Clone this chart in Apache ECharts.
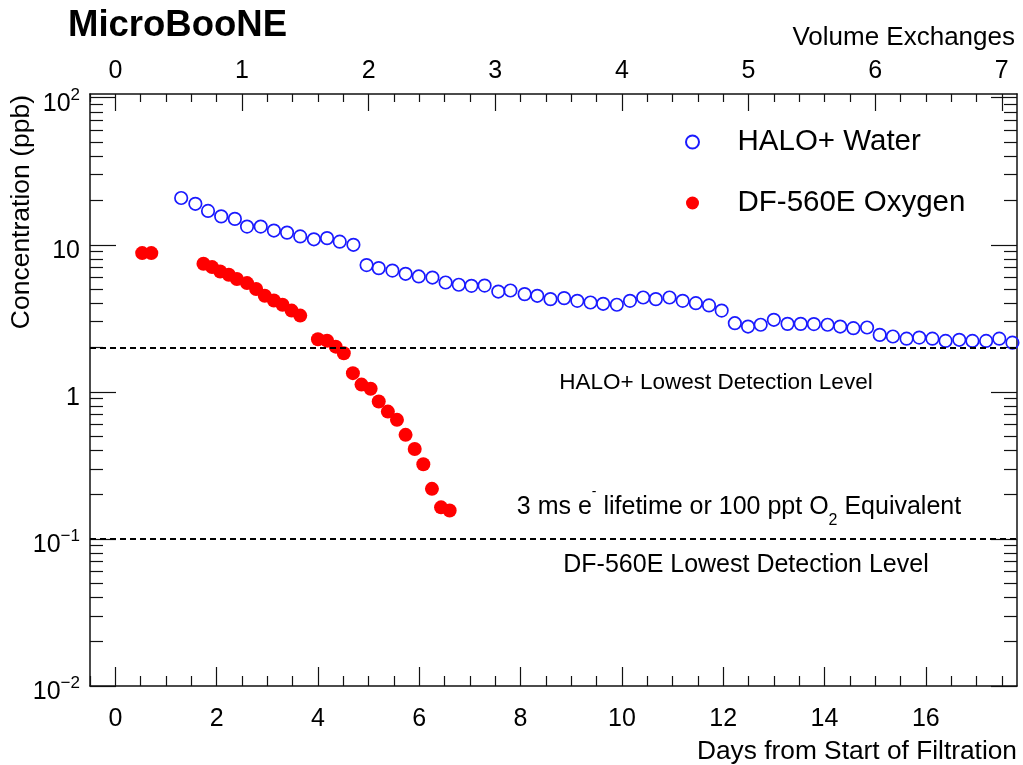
<!DOCTYPE html>
<html>
<head>
<meta charset="utf-8">
<script src="https://cdn.jsdelivr.net/npm/echarts@6.0.0/dist/echarts.min.js"></script>
<style>
html, body { margin: 0; padding: 0; background: #fff; }
#chart { width: 1023px; height: 765px; }
</style>
</head>
<body>
<div id="chart"></div>
<script>
// HALO+ water readings (days, ppb)
var haloDays = [1.30, 1.58, 1.83, 2.09, 2.36, 2.60, 2.87, 3.13, 3.39, 3.65, 3.92, 4.18, 4.43, 4.70,
  4.96, 5.20, 5.47, 5.73, 5.99, 6.26, 6.52, 6.78, 7.03, 7.29, 7.56, 7.80,
  8.08, 8.33, 8.59, 8.86, 9.12, 9.38, 9.63, 9.90, 10.16, 10.42, 10.67, 10.94, 11.20, 11.46, 11.72, 11.97,
  12.23, 12.49, 12.74, 13.00, 13.27, 13.53, 13.79, 14.06, 14.31, 14.57, 14.84,
  15.09, 15.35, 15.62, 15.87, 16.13, 16.39, 16.66, 16.92, 17.19, 17.45, 17.71];
var haloValues = [20.8, 19.0, 17.0, 15.6, 15.0, 13.3, 13.3, 12.5, 12.1, 11.4, 10.9, 11.1, 10.5, 10.0,
  7.28, 6.94, 6.68, 6.35, 6.09, 5.99, 5.54, 5.35, 5.26, 5.28, 4.81, 4.89,
  4.62, 4.50, 4.27, 4.34, 4.16, 4.05, 3.97, 3.91, 4.16, 4.38, 4.27, 4.38, 4.16, 4.01, 3.87, 3.57,
  2.93, 2.78, 2.86, 3.09, 2.90, 2.90, 2.89, 2.86, 2.78, 2.71, 2.74,
  2.44, 2.38, 2.30, 2.34, 2.30, 2.22, 2.26, 2.22, 2.22, 2.30, 2.16];

// DF-560E oxygen readings (days, ppb)
var oxyDays = [0.53, 0.71, 1.74, 1.91, 2.07, 2.24, 2.40, 2.60, 2.78, 2.95, 3.13, 3.30, 3.48, 3.65,
  4.00, 4.18, 4.35, 4.51, 4.69, 4.86, 5.04, 5.20, 5.38, 5.56, 5.73, 5.91, 6.08, 6.25, 6.43, 6.60];
var oxyValues = [8.78, 8.78, 7.43, 7.05, 6.58, 6.25, 5.85, 5.49, 5.00, 4.50, 4.18, 3.91, 3.57, 3.30,
  2.28, 2.23, 2.03, 1.83, 1.34, 1.12, 1.05, 0.859, 0.734, 0.645, 0.510, 0.409, 0.322, 0.219, 0.164, 0.156];

var seriesNames = ['HALO+ Water', 'DF-560E Oxygen'];
var detectionLevels = [2, 0.1];

// axis ticks
var dayTicks = [0, 2, 4, 6, 8, 10, 12, 14, 16];
var volTicks = [0, 1, 2, 3, 4, 5, 6, 7];
var concTicks = [0.01, 0.1, 1, 10, 100];

var dayMinorTicks = [];
for (var d = -0.5; d <= 17.8; d += 0.5) {
  if (d % 2 !== 0) dayMinorTicks.push(d);
}
var volMinorTicks = [];
for (var i = -1; i <= 35; i++) {
  if (i % 5 !== 0) volMinorTicks.push(i / 5);
}
var concMinorTicks = [];
for (var e = -2; e <= 1; e++) {
  for (var k = 2; k <= 9; k++) concMinorTicks.push(+(k * Math.pow(10, e)).toPrecision(3));
}

var FONT = "'Liberation Sans', Arial, sans-serif";
var AX = '#111';

function pairs(xs, ys) {
  return xs.map(function (x, j) { return [x, ys[j]]; });
}

function supLabel(v) {
  var p = Math.round(Math.log10(v));
  if (p === 0) return '{b|1}';
  if (p === 1) return '{b|10}';
  return '{b|10}{s|' + (p < 0 ? '\u2212' + (-p) : p) + '}';
}

var chart = echarts.init(document.getElementById('chart'));

var lineOn = { show: true, onZero: false, lineStyle: { color: AX, width: 1.5 } };
var lineOff = { show: false, onZero: false };
var xBase = { type: 'value', min: -0.5, max: 17.8, offset: 0, splitLine: { show: false } };
var vBase = { type: 'value', min: -0.2, max: 7.12, offset: 0, splitLine: { show: false } };
var yBase = { type: 'log', min: 0.01, max: 106, offset: 0, splitLine: { show: false } };

function ticks(len, values) {
  return { inside: true, length: len, customValues: values, lineStyle: { color: AX, width: 1.2 } };
}

chart.setOption({
  animation: false,
  backgroundColor: '#fff',
  textStyle: { fontFamily: FONT },
  grid: { left: 90, right: 6, top: 94, bottom: 79 },
  legend: {
    orient: 'vertical',
    left: 680,
    top: 122,
    itemWidth: 80,
    itemHeight: 13,
    itemGap: 31,
    textStyle: { fontSize: 29.5, color: '#000', fontFamily: FONT },
    data: seriesNames
  },
  xAxis: [
    Object.assign({}, xBase, {
      position: 'bottom', axisLine: lineOn, axisTick: ticks(19, dayTicks),
      axisLabel: { customValues: dayTicks, margin: 21, fontSize: 25, color: '#000', fontFamily: FONT }
    }),
    Object.assign({}, xBase, {
      position: 'bottom', axisLine: lineOff, axisTick: ticks(10, dayMinorTicks), axisLabel: { show: false }
    }),
    Object.assign({}, vBase, {
      position: 'top', axisLine: lineOn, axisTick: ticks(17, volTicks),
      axisLabel: { customValues: volTicks, margin: 10, fontSize: 25, color: '#000', fontFamily: FONT }
    }),
    Object.assign({}, vBase, {
      position: 'top', axisLine: lineOff, axisTick: ticks(8, volMinorTicks), axisLabel: { show: false }
    })
  ],
  yAxis: [
    Object.assign({}, yBase, {
      position: 'left', axisLine: lineOn, axisTick: ticks(26, concTicks),
      axisLabel: {
        customValues: concTicks, margin: 10, color: '#000', padding: [12, 0, 0, 0],
        formatter: supLabel,
        rich: {
          b: { fontSize: 25, lineHeight: 34, fontFamily: FONT, color: '#000' },
          s: { fontSize: 17, lineHeight: 17, verticalAlign: 'top', fontFamily: FONT, color: '#000' }
        }
      }
    }),
    Object.assign({}, yBase, {
      position: 'left', axisLine: lineOff, axisTick: ticks(13, concMinorTicks), axisLabel: { show: false }
    }),
    Object.assign({}, yBase, {
      position: 'right', axisLine: lineOn, axisTick: ticks(26, concTicks), axisLabel: { show: false }
    }),
    Object.assign({}, yBase, {
      position: 'right', axisLine: lineOff, axisTick: ticks(13, concMinorTicks), axisLabel: { show: false }
    })
  ],
  series: [
    {
      name: seriesNames[0],
      type: 'scatter',
      xAxisIndex: 0,
      yAxisIndex: 0,
      symbol: 'circle',
      symbolSize: 12.5,
      itemStyle: { color: 'rgba(255,255,255,0)', borderColor: '#1a1aff', borderWidth: 1.7, opacity: 1 },
      data: pairs(haloDays, haloValues),
      markLine: {
        silent: true,
        symbol: 'none',
        label: { show: false },
        lineStyle: { color: '#000', type: [6, 4], width: 2 },
        data: detectionLevels.map(function (v) { return { yAxis: v }; })
      }
    },
    {
      name: seriesNames[1],
      type: 'scatter',
      xAxisIndex: 0,
      yAxisIndex: 0,
      symbol: 'circle',
      symbolSize: 14,
      itemStyle: { color: '#ff0000', opacity: 1 },
      data: pairs(oxyDays, oxyValues)
    }
  ],
  graphic: [
    { type: 'text', x: 68, y: 26, style: { text: 'MicroBooNE', font: 'bold 36.5px ' + FONT, fill: '#000', align: 'left', verticalAlign: 'middle' } },
    { type: 'text', x: 1015, y: 38, style: { text: 'Volume Exchanges', font: '26px ' + FONT, fill: '#000', align: 'right', verticalAlign: 'middle' } },
    { type: 'text', x: 1017, y: 752, style: { text: 'Days from Start of Filtration', font: '26.3px ' + FONT, fill: '#000', align: 'right', verticalAlign: 'middle' } },
    { type: 'text', x: 22, y: 95, rotation: Math.PI / 2, style: { text: 'Concentration (ppb)', font: '26.5px ' + FONT, fill: '#000', align: 'right', verticalAlign: 'middle' } },
    { type: 'text', x: 716, y: 383, style: { text: 'HALO+ Lowest Detection Level', font: '22.5px ' + FONT, fill: '#000', align: 'center', verticalAlign: 'middle' } },
    { type: 'text', x: 746, y: 565, style: { text: 'DF-560E Lowest Detection Level', font: '25px ' + FONT, fill: '#000', align: 'center', verticalAlign: 'middle' } },
    {
      type: 'text', x: 739, y: 507,
      style: {
        text: '{n|3 ms e}{sup|-}{n| lifetime or 100 ppt O}{sub|2}{n| Equivalent}',
        fill: '#000', align: 'center', verticalAlign: 'middle',
        rich: {
          n: { fontSize: 25, lineHeight: 44, fontFamily: FONT },
          sup: { fontSize: 14, lineHeight: 26, verticalAlign: 'top', fontFamily: FONT },
          sub: { fontSize: 16, lineHeight: 16, verticalAlign: 'bottom', fontFamily: FONT }
        }
      }
    }
  ]
});
</script>
</body>
</html>
